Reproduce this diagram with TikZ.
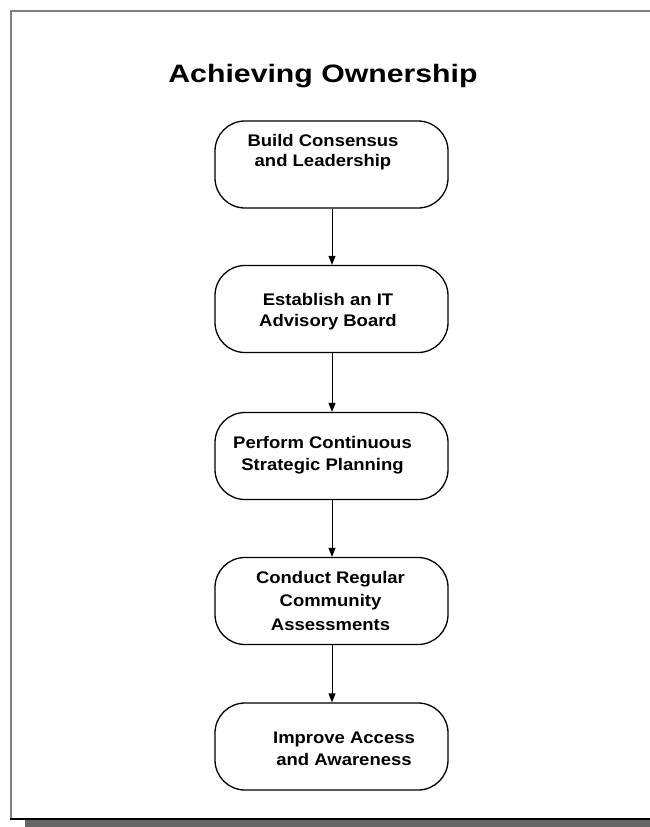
\documentclass[tikz,border=0pt]{standalone}
\usepackage{fontspec}
\usetikzlibrary{arrows.meta}
\newfontfamily\ttlfont[FakeStretch=1.2]{Liberation Sans}
\newfontfamily\bdyfont[FakeStretch=1.1]{Liberation Sans}
\definecolor{framegray}{RGB}{128,128,128}
\definecolor{shadowgray}{RGB}{102,102,102}
\begin{document}
\begin{tikzpicture}[x=1pt,y=-1pt,
  box/.style={draw=black,line width=1.3pt,rounded corners=30pt,minimum width=233pt,minimum height=87pt,inner sep=0pt},
  lbl/.style={anchor=base,inner sep=0pt,font=\bdyfont\bfseries\fontsize{16.8}{20}\selectfont},
  conn/.style={line width=1pt,-{Triangle[width=7pt,length=9pt]}}]
\useasboundingbox (0,0) rectangle (650,827);
% frame and shadow
\fill[shadowgray] (25,819) rectangle (650,827);
\draw[framegray,line width=1.5pt] (11,819) -- (11,11) -- (650,11);
\draw[black,line width=2pt] (10.25,819) -- (650,819);
% title
\node[anchor=base,inner sep=0pt,font=\ttlfont\bfseries\fontsize{25.2}{30}\selectfont] (title) at (323,82) {Achieving Ownership};
% boxes
\node[box] (b1) at (331.5,164.5) {};
\node[box] (b2) at (331.5,309) {};
\node[box] (b3) at (331.5,456) {};
\node[box] (b4) at (331.5,601) {};
\node[box] (b5) at (331.5,746.5) {};
% labels
\node[lbl] (t1a) at (323,146) {Build Consensus};
\node[lbl] (t1b) at (323,166) {and Leadership};
\node[lbl] (t2a) at (328,305) {Establish an IT};
\node[lbl] (t2b) at (328,326) {Advisory Board};
\node[lbl] (t3a) at (322.5,448) {Perform Continuous};
\node[lbl] (t3b) at (322.5,470) {Strategic Planning};
\node[lbl] (t4a) at (330.5,583) {Conduct Regular};
\node[lbl] (t4b) at (330.5,606) {Community};
\node[lbl] (t4c) at (330.5,630) {Assessments};
\node[lbl] (t5a) at (344,743) {Improve Access};
\node[lbl] (t5b) at (344,765) {and Awareness};
% connectors
\draw[conn] (b1.south -| 332,0) -- (b2.north -| 332,0);
\draw[conn] (b2.south -| 332,0) -- (b3.north -| 332,0);
\draw[conn] (b3.south -| 332,0) -- (b4.north -| 332,0);
\draw[conn] (b4.south -| 332,0) -- (b5.north -| 332,0);
\end{tikzpicture}
\end{document}
